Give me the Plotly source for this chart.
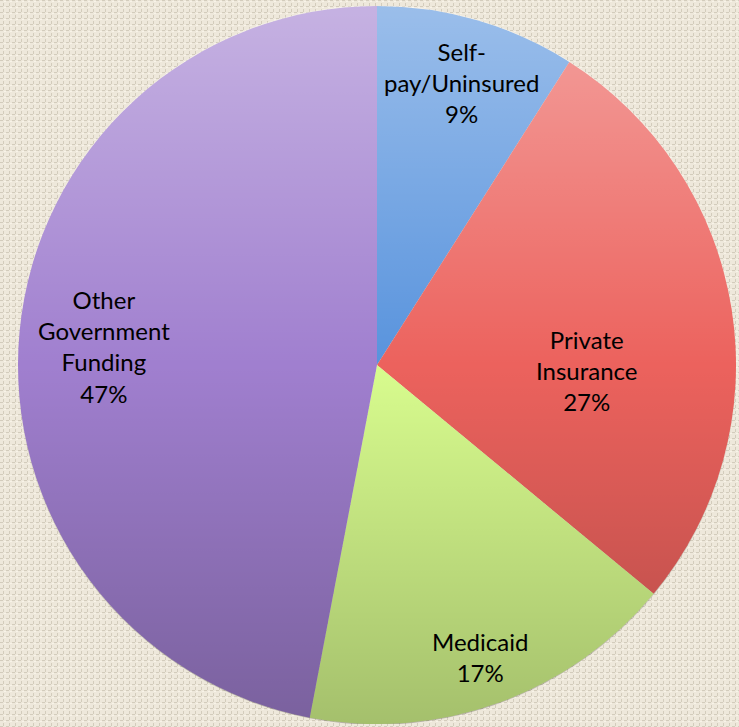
import base64
import math
import plotly.graph_objects as go

categories = ["Self-pay/Uninsured", "Private Insurance", "Medicaid", "Other Government Funding"]
label_text = ["Self-<br>pay/Uninsured", "Private<br>Insurance", "Medicaid", "Other<br>Government<br>Funding"]
values = [9, 27, 17, 47]
colors = ["#5893DD", "#EC625D", "#D8FC8E", "#A07FCF"]

W, H = 739, 727
cx, cy, R = 377, 365, 359

# label placement (radius fraction, angle offset in degrees) – layout only
label_r = [0.82, 0.585, 0.862, 0.762]
label_dtheta = [0.4, 10.6, 0.4, -1.6]

fig = go.Figure(go.Pie(
    labels=categories,
    values=values,
    textinfo="none",
    sort=False,
    direction="clockwise",
    rotation=0,
    marker=dict(colors=colors, line=dict(width=0)),
    showlegend=False,
    hoverinfo="label+percent",
    domain=dict(x=[(cx - R) / W, (cx + R) / W], y=[(H - cy - R) / H, (H - cy + R) / H]),
))

total = sum(values)
cum = 0.0
annotations = []
for i, v in enumerate(values):
    mid = (cum + v / 2) / total * 360 + label_dtheta[i]
    cum += v
    r = label_r[i] * R
    px = cx + r * math.sin(math.radians(mid))
    py = cy - r * math.cos(math.radians(mid))
    pct = round(v / total * 100)
    annotations.append(dict(
        x=px / W, y=1 - py / H, xref="paper", yref="paper",
        text=f"{label_text[i]}<br>{pct}%", showarrow=False,
        xanchor="center", yanchor="middle", align="center",
        font=dict(family="Lato, Carlito, sans-serif", size=24, color="#000000"),
    ))

# vertical shading overlay (light at top, darker at bottom)
grad_svg = (
    '<svg xmlns="http://www.w3.org/2000/svg" width="200" height="200" viewBox="0 0 200 200">'
    '<defs><linearGradient id="g" x1="0" y1="0" x2="0" y2="1">'
    '<stop offset="0" stop-color="#ffffff" stop-opacity="0.40"/>'
    '<stop offset="0.5" stop-color="#ffffff" stop-opacity="0"/>'
    '<stop offset="0.5" stop-color="#000000" stop-opacity="0"/>'
    '<stop offset="1" stop-color="#000000" stop-opacity="0.24"/>'
    '</linearGradient></defs>'
    '<circle cx="100" cy="100" r="100.2" fill="url(#g)"/></svg>'
)
# woven background texture
bg_svg = (
    '<svg xmlns="http://www.w3.org/2000/svg" width="739" height="727">'
    '<defs><pattern id="p" width="6" height="6" patternUnits="userSpaceOnUse">'
    '<rect width="6" height="6" fill="#EEE8DB"/>'
    '<rect x="0" y="0" width="3" height="1" fill="#D3CCBC"/>'
    '<rect x="3" y="3" width="1" height="3" fill="#D3CCBC"/>'
    '<rect x="4" y="1" width="2" height="1" fill="#F8F3E8"/>'
    '</pattern></defs>'
    '<rect width="739" height="727" fill="url(#p)"/></svg>'
)


def uri(svg):
    return "data:image/svg+xml;base64," + base64.b64encode(svg.encode()).decode()


fig.update_layout(
    width=W, height=H,
    margin=dict(l=0, r=0, t=0, b=0),
    paper_bgcolor="#E9E3D5",
    plot_bgcolor="#E9E3D5",
    annotations=annotations,
    images=[
        dict(source=uri(bg_svg), xref="paper", yref="paper", x=0, y=1,
             sizex=1, sizey=1, sizing="stretch", layer="below",
             xanchor="left", yanchor="top"),
        dict(source=uri(grad_svg), xref="paper", yref="paper",
             x=(cx - R) / W, y=(H - cy + R) / H,
             sizex=2 * R / W, sizey=2 * R / H, sizing="stretch", layer="above",
             xanchor="left", yanchor="top"),
    ],
)

fig.write_html("out.html", config={"displayModeBar": False},
               post_script="document.body.style.margin='0';")
